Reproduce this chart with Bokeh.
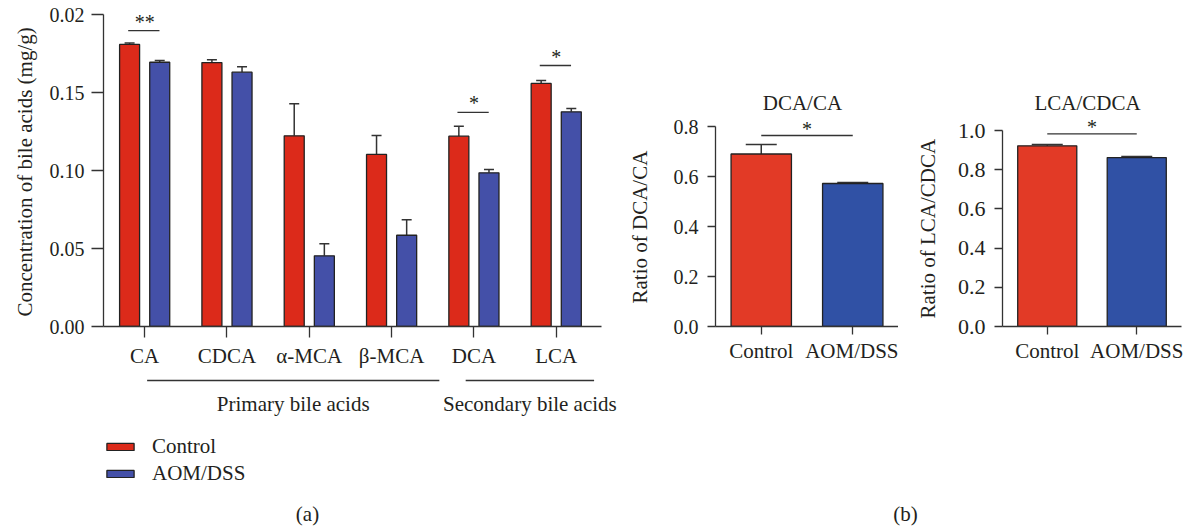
from bokeh.plotting import figure
from bokeh.layouts import row, column
from bokeh.models import (ColumnDataSource, FixedTicker, Label, Legend, LegendItem,
                          Whisker, TeeHead, Range1d)
from bokeh.embed import file_html
from bokeh.resources import INLINE

# ---------------- data ----------------
categories = ["CA", "CDCA", "α-MCA", "β-MCA", "DCA", "LCA"]
control_mean = [0.1808, 0.1692, 0.1222, 0.1103, 0.1220, 0.1558]
control_err = [0.0009, 0.0018, 0.0206, 0.0121, 0.0064, 0.0019]
aomdss_mean = [0.1694, 0.1630, 0.0453, 0.0585, 0.0985, 0.1376]
aomdss_err = [0.0011, 0.0035, 0.0077, 0.0099, 0.0021, 0.0021]
y_ticks_a = [0.0, 0.05, 0.10, 0.15, 0.20]
y_tick_labels_a = ["0.00", "0.05", "0.10", "0.15", "0.02"]
sig_a_index = [0, 4, 5]
sig_a_level = [0.1897, 0.1372, 0.1673]
sig_a_text = ["**", "*", "*"]
group_names = ["Primary bile acids", "Secondary bile acids"]
group_first = [0, 4]
group_last = [3, 5]

ratio_groups = ["Control", "AOM/DSS"]
dca_ca_mean = [0.690, 0.572]
dca_ca_err = [0.038, 0.004]
dca_ca_sig = 0.764
lca_cdca_mean = [0.922, 0.862]
lca_cdca_err = [0.006, 0.005]
lca_cdca_sig = 0.983
y_ticks_dca = [0.0, 0.2, 0.4, 0.6, 0.8]
y_ticks_lca = [0.0, 0.2, 0.4, 0.6, 0.8, 1.0]

# ---------------- style / layout constants ----------------
FONT = "Liberation Serif"
TXT = "#231f20"
AX = "#333333"
RED_A, BLUE_A = "#dc2a1a", "#4450a8"
RED_B, BLUE_B = "#e23a26", "#3051a5"
FS_TICK, FS_TEXT = "20px", "21px"
FRAME_H = 326       # height of the top plot frames (px)
BOTTOM = 44         # space for x tick labels under the top frames
TOP_H = FRAME_H + BOTTOM
LOW_H = 529 - TOP_H


def base_fig(width, x_range, y_range, left, right, ylabel, ylabel_offset, ylabel_gap):
    p = figure(width=width, height=TOP_H, x_range=x_range, y_range=y_range,
               output_backend="svg", toolbar_location=None,
               min_border_left=left, min_border_right=right,
               min_border_top=0, min_border_bottom=BOTTOM,
               title=ylabel, title_location="left")
    p.title.text_font = FONT
    p.title.text_font_size = FS_TEXT
    p.title.text_font_style = "normal"
    p.title.text_color = TXT
    p.title.align = "left"
    p.title.offset = ylabel_offset
    p.title.standoff = ylabel_gap
    p.grid.visible = False
    p.outline_line_color = None
    p.background_fill_color = "white"
    p.border_fill_color = "white"
    for ax in (p.xaxis[0], p.yaxis[0]):
        ax.axis_line_color = AX
        ax.axis_line_width = 1.3
        ax.major_tick_line_color = AX
        ax.major_tick_line_width = 1.3
        ax.major_tick_in = 0
        ax.minor_tick_line_color = None
        ax.major_label_text_font = FONT
        ax.major_label_text_font_size = FS_TICK
        ax.major_label_text_color = TXT
    p.xaxis.major_label_text_font_size = FS_TEXT
    return p


def add_label(p, x, y, text, size=FS_TEXT, align="center", baseline="middle"):
    p.add_layout(Label(x=x, y=y, text=text, text_font=FONT, text_font_size=size,
                       text_color=TXT, text_align=align, text_baseline=baseline))


# ================= panel (a) =================
A_LEFT, A_FRAME_W, A_RIGHT = 103, 498, 4
cat_px = A_FRAME_W / 6.05
ya_end = 0.2 * FRAME_H / (FRAME_H - 14)
p1 = base_fig(A_LEFT + A_FRAME_W + A_RIGHT, Range1d(-0.5, 5.55), Range1d(0, ya_end),
              A_LEFT, A_RIGHT, "Concentration of bile acids (mg/g)", 10, 19)
px_a = ya_end / FRAME_H

idx = list(range(len(categories)))
off, bw = 0.183, 0.243
src_c = ColumnDataSource(dict(x=[i - off for i in idx], top=control_mean,
                              up=[m + e for m, e in zip(control_mean, control_err)]))
src_d = ColumnDataSource(dict(x=[i + off for i in idx], top=aomdss_mean,
                              up=[m + e for m, e in zip(aomdss_mean, aomdss_err)]))
p1.vbar(x="x", top="top", width=bw, source=src_c, fill_color=RED_A,
        line_color="#222222", line_width=1.3)
p1.vbar(x="x", top="top", width=bw, source=src_d, fill_color=BLUE_A,
        line_color="#222222", line_width=1.3)
for s in (src_c, src_d):
    p1.add_layout(Whisker(base="x", lower="top", upper="up", source=s,
                          lower_head=None,
                          upper_head=TeeHead(size=10, line_color=AX, line_width=1.5),
                          line_color=AX, line_width=1.5))

p1.xaxis.ticker = FixedTicker(ticks=idx)
p1.xaxis.major_label_overrides = {i: c for i, c in zip(idx, categories)}
p1.xaxis.major_tick_out = 11
p1.xaxis.major_label_standoff = 6
p1.yaxis.ticker = FixedTicker(ticks=y_ticks_a)
p1.yaxis.bounds = (0, 0.2)
p1.yaxis.major_label_overrides = {t: l for t, l in zip(y_ticks_a, y_tick_labels_a)}
p1.yaxis.major_tick_out = 12
p1.yaxis.major_label_standoff = 7

for i, lvl, t in zip(sig_a_index, sig_a_level, sig_a_text):
    p1.segment(x0=[i - 0.2], x1=[i + 0.18], y0=[lvl], y1=[lvl], line_color=AX, line_width=1.3)
    add_label(p1, i, lvl + 9 * px_a, t, size="20px")


# ================= panel (b) =================
def ratio_fig(width, left, right, top_val, top_px, mean, err, ticks, ylabel, ylabel_offset,
              ylabel_gap, title, sig, tick_font):
    y_end = top_val * FRAME_H / (FRAME_H - top_px)
    px = y_end / FRAME_H
    p = base_fig(width, Range1d(-0.5, 1.5), Range1d(0, y_end), left, right, ylabel,
                 ylabel_offset, ylabel_gap)
    src = ColumnDataSource(dict(x=[0, 1], top=mean, up=[m + e for m, e in zip(mean, err)],
                                color=[RED_B, BLUE_B]))
    p.vbar(x="x", top="top", width=0.66, source=src, fill_color="color",
           line_color="#222222", line_width=1.3)
    p.add_layout(Whisker(base="x", lower="top", upper="up", source=src, lower_head=None,
                         upper_head=TeeHead(size=31, line_color=AX, line_width=1.5),
                         line_color=AX, line_width=1.5))
    p.xaxis.ticker = FixedTicker(ticks=[0, 1])
    p.xaxis.major_label_overrides = {0: ratio_groups[0], 1: ratio_groups[1]}
    p.xaxis.major_tick_out = 8
    p.xaxis.major_label_standoff = 4
    p.yaxis.ticker = FixedTicker(ticks=ticks)
    p.yaxis.bounds = (0, top_val)
    p.yaxis.major_label_overrides = {t: f"{t:.1f}" for t in ticks}
    p.yaxis.major_label_text_font_size = tick_font
    p.yaxis.major_tick_out = 8
    p.yaxis.major_label_standoff = 9
    p.segment(x0=[0], x1=[1], y0=[sig], y1=[sig], line_color=AX, line_width=1.3)
    add_label(p, 0.5, sig + 7 * px, "*", size="20px")
    add_label(p, 0.45, (FRAME_H - 102.7) * px, title)
    return p


p2 = ratio_fig(293, 110, 0, 0.8, 126, dca_ca_mean, dca_ca_err, y_ticks_dca,
               "Ratio of DCA/CA", 23, 38, "DCA/CA", dca_ca_sig, "20px")
p3 = ratio_fig(291, 103, 8, 1.0, 130, lca_cdca_mean, lca_cdca_err, y_ticks_lca,
               "Ratio of LCA/CDCA", 8, 30, "LCA/CDCA", lca_cdca_sig, "22px")

# ================= lower strip: group lines, legend, panel letters =================
low_w = 1189
low_frame = low_w - A_LEFT
x_hi = -0.5 + low_frame / cat_px
q = figure(width=low_w, height=LOW_H, x_range=Range1d(-0.5, x_hi),
           y_range=Range1d(LOW_H, 0), output_backend="svg", toolbar_location=None,
           x_axis_location=None, y_axis_location=None,
           min_border_left=A_LEFT, min_border_right=0, min_border_top=0, min_border_bottom=0)
q.grid.visible = False
q.outline_line_color = None
q.border_fill_color = "white"

for name, a, b in zip(group_names, group_first, group_last):
    x0, x1 = a + (0.03 if a == 0 else -0.1), b + (0.58 if b == 3 else 0.46)
    q.segment(x0=[x0], x1=[x1], y0=[380 - TOP_H], y1=[380 - TOP_H], line_color=AX, line_width=1.3)
    add_label(q, (x0 + x1) / 2, 403 - TOP_H, name)

# legend swatches: placeholder renderers kept entirely outside the visible area
far_x = x_hi + 50
lc = q.vbar(x=[far_x], bottom=[LOW_H + 100], top=[LOW_H + 110], width=0.2, fill_color=RED_A,
            line_color="#222222", line_width=1.3)
ld = q.vbar(x=[far_x], bottom=[LOW_H + 100], top=[LOW_H + 110], width=0.2, fill_color=BLUE_A,
            line_color="#222222", line_width=1.3)
legend = Legend(items=[LegendItem(label="Control", renderers=[lc]),
                       LegendItem(label="AOM/DSS", renderers=[ld])],
                location=(0, LOW_H - (486 - TOP_H)), orientation="vertical",
                border_line_color=None, background_fill_alpha=0,
                padding=0, margin=0, spacing=2, glyph_width=34, glyph_height=9,
                label_standoff=15, label_text_font=FONT, label_text_font_size=FS_TEXT,
                label_text_color=TXT)
q.add_layout(legend)
add_label(q, -0.5 + (307 - A_LEFT) / cat_px, 513 - TOP_H, "(a)")
add_label(q, -0.5 + (905 - A_LEFT) / cat_px, 513 - TOP_H, "(b)")

layout = column(row(p1, p2, p3, spacing=0), q, spacing=0)
open("out.html", "w").write(file_html(layout, INLINE))
